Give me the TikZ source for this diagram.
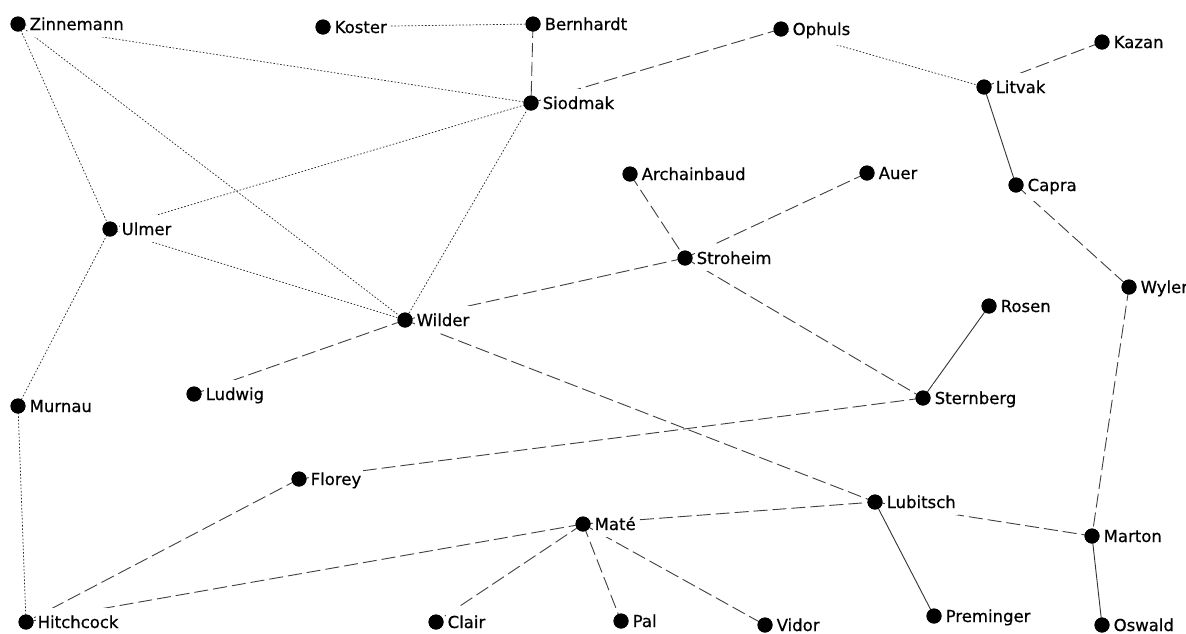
\documentclass[tikz,border=0pt]{standalone}
\usepackage{fontspec}
\setmainfont{DejaVu Sans}
\newfontfamily\labfont{DejaVu Sans}[FakeBold=0.6]
\begin{document}
\begin{tikzpicture}[x=1pt,y=-1pt,
  dot/.style={circle,fill=black,inner sep=0pt,minimum size=15pt},
  lab/.style={fill=white,inner xsep=2pt,inner ysep=7pt,anchor=base west,font=\labfont\fontsize{16.5}{19}\selectfont},
  dotline/.style={draw=black!85,line width=0.7pt,dash pattern=on 1.6pt off 1.8pt},
  dashline/.style={draw=black!75,line width=0.9pt,dash pattern=on 14pt off 5pt},
  solidline/.style={draw=black!80,line width=0.9pt}]
\useasboundingbox (0,0) rectangle (1186,633);
\fill[white] (0,0) rectangle (1186,633);
% dots
\node[dot] (zin) at (18,24) {};
\node[dot] (kos) at (323,27) {};
\node[dot] (ber) at (533,24) {};
\node[dot] (oph) at (781,29) {};
\node[dot] (kaz) at (1102,42) {};
\node[dot] (lit) at (984,87) {};
\node[dot] (sio) at (531,103) {};
\node[dot] (arc) at (630,174) {};
\node[dot] (aue) at (867,173) {};
\node[dot] (cap) at (1016,185) {};
\node[dot] (ulm) at (110,229) {};
\node[dot] (str) at (685,258) {};
\node[dot] (wyl) at (1129,287) {};
\node[dot] (ros) at (989,306) {};
\node[dot] (wil) at (405,320) {};
\node[dot] (lud) at (194,394) {};
\node[dot] (mur) at (18,406) {};
\node[dot] (ste) at (923,398) {};
\node[dot] (flo) at (299,479) {};
\node[dot] (lub) at (875,502) {};
\node[dot] (mat) at (583,524) {};
\node[dot] (mar) at (1092,536) {};
\node[dot] (hit) at (26,622) {};
\node[dot] (cla) at (436,622) {};
\node[dot] (pal) at (621,621) {};
\node[dot] (vid) at (765,625) {};
\node[dot] (pre) at (934,616) {};
\node[dot] (osw) at (1102,625) {};
% dotted edges
\draw[dotline] (zin.center) -- (sio.center);
\draw[dotline] (zin.center) -- (ulm.center);
\draw[dotline] (zin.center) -- (wil.center);
\draw[dotline] (kos.center) -- (ber.center);
\draw[dotline] (sio.center) -- (ulm.center);
\draw[dotline] (sio.center) -- (wil.center);
\draw[dotline] (ulm.center) -- (wil.center);
\draw[dotline] (ulm.center) -- (mur.center);
\draw[dotline] (mur.center) -- (hit.center);
\draw[dotline] (oph.center) -- (lit.center);
% dashed edges
\draw[dashline] (ber.center) -- (sio.center);
\draw[dashline] (sio.center) -- (oph.center);
\draw[dashline] (kaz.center) -- (lit.center);
\draw[dashline] (cap.center) -- (wyl.center);
\draw[dashline] (arc.center) -- (str.center);
\draw[dashline] (aue.center) -- (str.center);
\draw[dashline] (str.center) -- (wil.center);
\draw[dashline] (str.center) -- (ste.center);
\draw[dashline] (wil.center) -- (lud.center);
\draw[dashline] (wil.center) -- (lub.center);
\draw[dashline] (ste.center) -- (flo.center);
\draw[dashline] (flo.center) -- (hit.center);
\draw[dashline] (hit.center) -- (mat.center);
\draw[dashline] (mat.center) -- (lub.center);
\draw[dashline] (lub.center) -- (mar.center);
\draw[dashline] (wyl.center) -- (mar.center);
\draw[dashline] (mat.center) -- (cla.center);
\draw[dashline] (mat.center) -- (pal.center);
\draw[dashline] (mat.center) -- (vid.center);
% solid edges
\draw[solidline] (lit.center) -- (cap.center);
\draw[solidline] (ros.center) -- (ste.center);
\draw[solidline] (lub.center) -- (pre.center);
\draw[solidline] (mar.center) -- (osw.center);
% labels
\foreach \n/\t in {zin/Zinnemann,kos/Koster,ber/Bernhardt,oph/Ophuls,kaz/Kazan,lit/Litvak,sio/Siodmak,arc/Archainbaud,aue/Auer,cap/Capra,ulm/Ulmer,str/Stroheim,wyl/Wyler,ros/Rosen,wil/Wilder,lud/Ludwig,mur/Murnau,ste/Sternberg,flo/Florey,lub/Lubitsch,mat/Maté,mar/Marton,hit/Hitchcock,cla/Clair,pal/Pal,vid/Vidor,pre/Preminger,osw/Oswald}
  \node[lab] (\n-l) at ([xshift=9.5pt,yshift=-6pt]\n.center) {\t};
% redraw dots on top
\foreach \n in {zin,kos,ber,oph,kaz,lit,sio,arc,aue,cap,ulm,str,wyl,ros,wil,lud,mur,ste,flo,lub,mat,mar,hit,cla,pal,vid,pre,osw}
  \fill (\n.center) circle (7.5pt);
\end{tikzpicture}
\end{document}
